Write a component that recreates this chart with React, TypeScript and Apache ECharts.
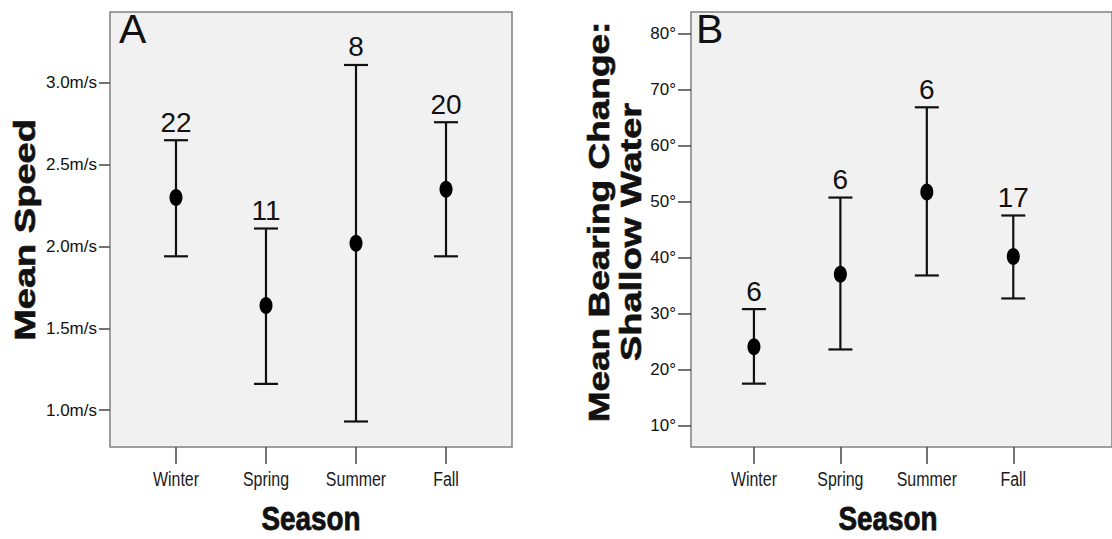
import React, { useEffect, useRef } from "react";
import * as echarts from "echarts";

const seasons = ["Winter", "Spring", "Summer", "Fall"];
const speedMean = [2.3, 1.64, 2.02, 2.35];
const speedLow = [1.94, 1.16, 0.93, 1.94];
const speedHigh = [2.65, 2.11, 3.11, 2.76];
const speedN = [22, 11, 8, 20];
const speedTicks = [1.0, 1.5, 2.0, 2.5, 3.0];

const bearingMean = [24.1, 37.0, 51.7, 40.2];
const bearingLow = [17.5, 23.6, 36.8, 32.7];
const bearingHigh = [30.8, 50.7, 66.8, 47.5];
const bearingN = [6, 6, 6, 17];
const bearingTicks = [10, 20, 30, 40, 50, 60, 70, 80];

const FONT = "'Liberation Sans', Arial, Helvetica, sans-serif";

function renderItem(params: any, api: any) {
  const x = api.value(0);
  const m = api.value(1);
  const lo = api.value(2);
  const hi = api.value(3);
  const n = api.value(4);
  const pm = api.coord([x, m]);
  const pl = api.coord([x, lo]);
  const ph = api.coord([x, hi]);
  const cs = params.coordSys;
  const bottom = cs.y + cs.height;
  const capW = 12;
  const ls = { stroke: "#111", lineWidth: 2.2 };
  return {
    type: "group",
    children: [
      { type: "line", shape: { x1: ph[0], y1: ph[1], x2: pl[0], y2: pl[1] }, style: ls },
      { type: "line", shape: { x1: ph[0] - capW, y1: ph[1], x2: ph[0] + capW, y2: ph[1] }, style: ls },
      { type: "line", shape: { x1: pl[0] - capW, y1: pl[1], x2: pl[0] + capW, y2: pl[1] }, style: ls },
      { type: "ellipse", shape: { cx: pm[0], cy: pm[1], rx: 6.5, ry: 8.5 }, style: { fill: "#000" } },
      {
        type: "text",
        x: ph[0],
        y: ph[1] - 4,
        style: {
          text: String(n),
          fontSize: 28,
          fontFamily: FONT,
          fill: "#111",
          align: "center",
          verticalAlign: "bottom",
        },
      },
      {
        type: "text",
        x: pm[0],
        y: bottom + 32,
        scaleX: 0.76,
        style: {
          text: seasons[Math.round(x)],
          fontSize: 21,
          fontFamily: FONT,
          fill: "#1a1a1a",
          align: "center",
          verticalAlign: "middle",
        },
      },
    ],
  };
}

export default function App() {
  const ref = useRef<HTMLDivElement>(null);
  useEffect(() => {
    document.body.style.margin = "0";
    if (!ref.current) return;
    const chart = echarts.init(ref.current, undefined, { renderer: "svg" });
    const speedData = seasons.map((_, i) => [i, speedMean[i], speedLow[i], speedHigh[i], speedN[i]]);
    const bearingData = seasons.map((_, i) => [i, bearingMean[i], bearingLow[i], bearingHigh[i], bearingN[i]]);
    const gridCommon = {
      show: true,
      backgroundColor: "#f1f1f1",
      borderColor: "#808080",
      borderWidth: 1.5,
      containLabel: false,
    };
    const xCommon = (min: number, max: number, gi: number) => ({
      type: "value",
      gridIndex: gi,
      min,
      max,
      splitLine: { show: false },
      axisLine: { show: false, onZero: false },
      axisTick: { show: true, length: 17, customValues: [0, 1, 2, 3], lineStyle: { color: "#444", width: 1.5 } },
      axisLabel: { show: false },
    });
    const yCommon = (min: number, max: number, gi: number, ticks: number[], len: number, margin: number, fmt: (v: number) => string) => ({
      type: "value",
      gridIndex: gi,
      min,
      max,
      splitLine: { show: false },
      axisLine: { show: false, onZero: false },
      axisTick: { show: true, length: len, customValues: ticks, lineStyle: { color: "#444", width: 1.5 } },
      axisLabel: {
        customValues: ticks,
        formatter: fmt,
        margin,
        fontSize: 17,
        fontFamily: FONT,
        color: "#111",
      },
    });
    const boldStyle = { fontWeight: "bold", fontFamily: FONT, fill: "#111", stroke: "#111", lineWidth: 0.8, align: "center", verticalAlign: "middle" };
    const option = {
      animation: false,
      backgroundColor: "#ffffff",
      grid: [
        { ...gridCommon, left: 110, top: 12, width: 402, height: 435 },
        { ...gridCommon, left: 691, top: 12, width: 430, height: 435 },
      ],
      xAxis: [xCommon(-0.733, 3.733, 0), xCommon(-0.728, 4.142, 1)],
      yAxis: [
        yCommon(0.774, 3.434, 0, speedTicks, 11, 13, (v: number) => v.toFixed(1) + "m/s"),
        yCommon(6.2, 83.8, 1, bearingTicks, 13, 15, (v: number) => v + "°"),
      ],
      series: [
        { type: "custom", xAxisIndex: 0, yAxisIndex: 0, renderItem, data: speedData, encode: { x: 0, y: [1, 2, 3] }, clip: false },
        { type: "custom", xAxisIndex: 1, yAxisIndex: 1, renderItem, data: bearingData, encode: { x: 0, y: [1, 2, 3] }, clip: false },
      ],
      graphic: [
        { type: "text", x: 119, y: 8, style: { text: "A", fontSize: 41, fontFamily: FONT, fill: "#111" } },
        { type: "text", x: 696, y: 8, style: { text: "B", fontSize: 41, fontFamily: FONT, fill: "#111" } },
        {
          type: "text", x: 24, y: 230, rotation: Math.PI / 2, scaleX: 1, scaleY: 0.79,
          style: { ...boldStyle, text: "Mean Speed", fontSize: 38 },
        },
        {
          type: "text", x: 599, y: 222, rotation: Math.PI / 2, scaleX: 1, scaleY: 0.79,
          style: { ...boldStyle, text: "Mean Bearing Change:", fontSize: 37 },
        },
        {
          type: "text", x: 630, y: 232, rotation: Math.PI / 2, scaleX: 1, scaleY: 0.79,
          style: { ...boldStyle, text: "Shallow Water", fontSize: 38 },
        },
        {
          type: "text", x: 311, y: 519, scaleX: 0.82, scaleY: 1,
          style: { ...boldStyle, text: "Season", fontSize: 34 },
        },
        {
          type: "text", x: 888, y: 519, scaleX: 0.82, scaleY: 1,
          style: { ...boldStyle, text: "Season", fontSize: 34 },
        },
      ],
    };
    chart.setOption(option as any);
    return () => chart.dispose();
  }, []);
  return <div ref={ref} style={{ width: 1112, height: 539 }} />;
}
